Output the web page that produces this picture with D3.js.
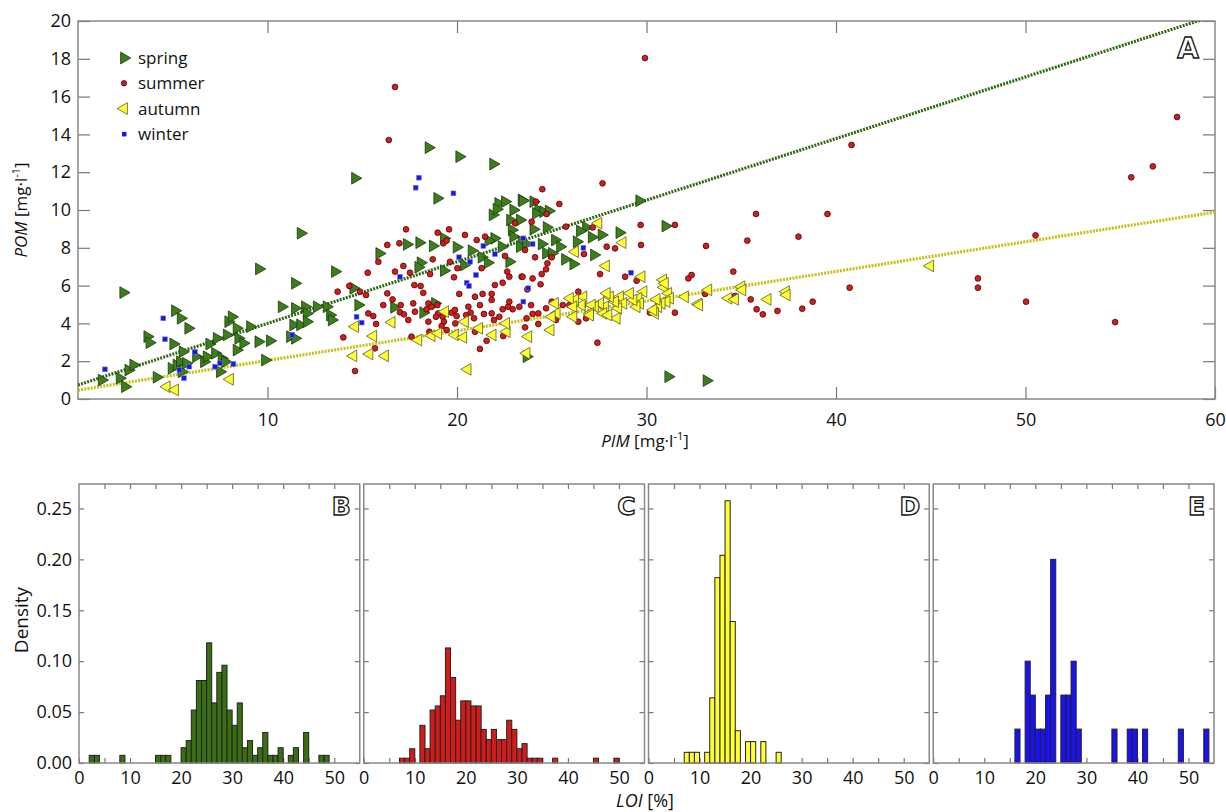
<!DOCTYPE html>
<html>
<head>
<meta charset="utf-8">
<script src="https://cdnjs.cloudflare.com/ajax/libs/d3/7.8.5/d3.min.js"></script>
<style>
  body { margin: 0; background: #fff; }
  svg { font-family: "Open Sans", sans-serif; }
  .tick line { stroke: #777; stroke-width: 1.2; }
  .tick text { fill: #111; }
</style>
</head>
<body>
<svg></svg>
<script>
var width = 1226;
var height = 812;

// scatter data, [PIM, POM] in mg/l
var spring = [[2.39,5.63],[1.25,1.0],[2.2,1.1],[2.48,0.65],[2.66,1.53],[2.92,1.8],[3.66,3.3],[3.77,2.98],[4.15,1.15],[5.12,4.67],[5.42,4.27],[5.82,3.74],[5.03,2.91],[5.52,2.5],[4.94,1.62],[5.2,1.8],[5.38,1.97],[5.7,1.89],[5.47,1.44],[6.23,2.24],[6.65,1.97],[6.79,2.24],[6.93,2.91],[7.23,2.42],[7.32,3.21],[7.58,2.15],[7.49,1.44],[7.76,1.97],[7.93,4.09],[8.11,4.35],[7.85,3.39],[8.37,3.74],[8.46,3.21],[8.37,2.59],[8.72,2.95],[9.08,3.83],[9.52,3.03],[10.13,3.08],[9.87,2.06],[9.55,6.88],[10.75,4.88],[11.45,4.8],[11.98,4.88],[12.07,4.53],[12.6,4.88],[13.12,4.88],[13.3,4.44],[13.39,4.18],[11.19,3.3],[11.45,3.21],[11.36,3.92],[11.72,3.92],[12.07,4.09],[11.45,6.12],[11.75,8.77],[14.62,11.68],[13.56,6.74],[14.53,5.86],[14.79,4.97],[15.9,7.7],
  [18.5,13.3],[20.12,12.82],[21.91,12.43],[18.96,10.62],[17.35,8.18],[18.01,8.27],[18.72,8.1],[19.31,8.5],[19.98,8.03],[20.77,7.85],[21.3,7.5],[21.62,7.21],[20.37,7.09],[19.31,6.79],[18.08,7.21],[17.96,6.97],[16.68,4.85],[18.22,4.57],[18.84,5.06],[22.18,10.35],[22.53,10.44],[21.88,9.74],[22.09,10.04],[22.97,10.0],[23.41,10.53],[22.8,9.47],[23.32,9.47],[22.89,8.94],[22.97,8.59],[23.41,8.32],[23.32,8.06],[22.36,8.06],[21.97,8.5],[21.66,8.38],[22.76,7.26],[23.67,2.24],
  [29.62,10.49],[31.0,9.15],[28.57,8.8],[27.63,8.68],[27.11,8.56],[26.81,9.08],[26.49,8.89],[26.32,8.32],[27.23,7.62],[26.14,7.14],[25.7,7.39],[25.17,8.41],[25.44,8.06],[24.73,9.08],[24.03,8.98],[24.47,8.2],[24.7,7.71],[24.29,10.0],[24.55,9.91],[24.17,9.82],[23.46,10.49],[23.64,8.2],[31.15,1.18],[33.17,0.97],[24.03,10.44],[25.0,7.71],[24.84,9.95]];

var summer = [[13.7,5.68],[14.32,5.98],[14.88,5.68],[15.2,5.5],[15.29,6.68],[15.32,4.53],[15.58,4.39],[15.73,3.97],[14.0,3.26],[14.62,1.48],[15.67,2.68],[15.85,7.26],
  [16.73,16.51],[16.4,13.7],[29.92,18.04],[58.0,14.92],[40.82,13.44],
  [17.31,8.98],[16.32,8.15],[16.96,8.24],[18.98,8.8],[19.58,8.98],[19.28,8.24],[19.45,8.38],[18.72,7.39],[17.17,7.04],[16.73,6.74],[17.52,6.68],[18.58,6.61],[19.63,7.26],[19.84,6.44],[20.02,6.92],[21.3,6.92],[20.42,8.68],[21.04,8.41],[21.48,8.59],[22.65,6.74],[22.76,6.47],[22.53,7.57],[23.06,9.3],[23.41,6.47],[17.75,6.03],[18.08,5.98],[18.22,5.62],[16.32,5.59],[16.11,4.97],[16.6,5.27],[17.03,4.97],[16.99,4.59],[17.2,4.48],[17.43,4.18],[17.69,5.06],[17.78,4.62],[18.49,5.06],[18.4,4.75],[18.66,4.88],[18.96,4.97],[19.01,4.53],[18.89,4.35],[19.24,4.35],[19.31,4.09],[19.19,3.86],[19.45,3.65],[19.72,4.57],[19.89,4.71],[19.98,4.39],[19.91,4.0],[20.12,5.56],[20.6,4.88],[20.72,4.57],[20.48,4.44],[20.9,4.27],[20.95,5.41],[21.35,5.56],[21.21,4.97],[21.42,4.5],[21.83,5.56],[21.83,5.24],[22.0,6.03],[22.41,6.15],[21.83,4.53],[21.95,4.18],[22.23,4.35],[22.41,4.75],[22.7,4.88],[22.76,5.15],[22.94,4.75],[23.29,4.88],[22.44,3.33],[21.56,3.08],[21.21,2.65],[18.54,3.56],[17.6,3.3],[18.49,4.09],[20.95,3.56],
  [27.68,11.41],[24.5,11.1],[24.17,10.44],[25.4,10.32],[24.73,9.79],[23.94,9.38],[25.75,9.12],[27.16,9.08],[29.69,9.21],[31.5,9.21],[35.78,9.79],[35.32,8.38],[33.14,8.1],[29.71,8.15],[28.34,7.97],[27.9,8.06],[26.7,7.67],[23.59,7.88],[24.12,7.5],[25.0,7.5],[24.77,7.18],[24.7,6.86],[24.47,6.61],[23.46,6.47],[23.99,6.38],[24.41,6.07],[23.71,5.8],[27.55,6.61],[28.87,6.47],[29.48,6.26],[32.21,6.38],[32.38,6.56],[34.58,6.74],[26.4,5.68],[25.0,5.15],[23.91,4.97],[24.7,4.8],[25.58,4.97],[25.93,4.97],[26.67,4.97],[23.99,4.5],[24.29,4.53],[23.67,4.27],[24.29,3.97],[23.59,3.79],[26.4,4.09],[26.81,4.27],[25.22,4.18],[30.18,4.57],[31.5,4.57],[33.09,5.56],[34.67,5.45],[35.5,5.27],[35.81,4.75],[27.41,2.98],[29.52,5.15],
  [39.55,9.79],[38.02,8.59],[50.53,8.66],[55.58,11.73],[56.72,12.31],[36.14,4.48],[36.91,4.66],[38.22,4.78],[38.77,5.15],[40.72,5.89],[47.49,6.38],[47.49,5.89],[50.03,5.15],[54.73,4.07]];

var autumn = [[4.68,0.65],[5.12,0.48],[8.02,1.04],[14.62,3.83],[14.53,2.28],[15.38,2.38],[15.58,3.33],
  [19.37,4.62],[16.55,4.06],[16.2,2.28],[17.96,3.12],[18.66,3.35],[19.01,3.47],[19.89,3.39],[20.33,3.26],[20.42,4.09],[21.17,3.74],[21.88,3.39],[22.62,3.56],[22.59,4.0],[23.67,2.42],[20.56,1.57],[23.76,3.3],
  [27.46,9.3],[28.74,8.27],[26.23,7.79],[27.86,7.04],[29.74,6.47],[30.88,6.3],[30.92,5.91],[33.26,5.77],[35.01,5.94],[34.32,5.33],[34.67,5.27],[32.73,5.03],[32.03,5.41],[31.15,5.59],[31.24,5.33],[31.06,5.15],[30.8,5.06],[30.62,4.88],[30.45,4.53],[30.36,4.71],[29.84,5.68],[29.57,5.33],[29.66,5.06],[29.48,4.88],[29.31,5.24],[29.13,5.59],[28.6,5.41],[28.78,5.06],[28.51,4.8],[28.34,5.15],[28.07,5.41],[27.9,5.59],[27.81,4.88],[27.55,5.06],[27.28,4.88],[27.11,4.97],[27.02,4.53],[27.72,4.53],[26.67,5.41],[26.58,4.97],[26.23,5.24],[25.96,5.33],[26.14,4.88],[26.14,4.35],[25.17,5.06],[25.26,4.53],[25.0,4.35],[28.43,4.27],[27.02,4.44],[27.99,4.44],[24.94,3.65],[30.53,5.27],[30.97,6.12],
  [44.97,7.04],[35.06,5.77],[36.39,5.27],[37.36,5.68],[37.4,5.5],[32.78,4.97]];

var winter = [[1.42,1.57],[4.5,4.27],[4.59,3.16],[6.17,2.49],[5.35,1.53],[5.59,1.1],[5.87,1.71],[7.23,1.71],[7.49,1.89],[8.2,1.85],[11.31,3.39],[14.7,4.35],[14.97,4.04],[17.99,11.71],[17.82,11.18],[19.81,10.88],[16.99,6.47],[20.11,7.5],[20.69,7.26],[21.0,6.56],[20.51,6.15],[20.63,5.98],[21.39,8.1],[22.0,7.67],[23.5,8.5],[23.5,5.15],[23.76,5.86],[26.67,8.0],[29.18,6.68],[23.99,8.2]];

// fitted lines (spring, autumn)
var fitIntercept = [0.74, 0.47];
var fitSlope = [0.326, 0.157];

// histograms of LOI, 1 % bins: left edge and density
var binsB = [2,3,8,15,16,17,20,21,22,23,24,25,26,27,28,29,30,31,32,33,34,35,36,37,38,39,41,42,44,47,48];
var densB = [0.0075,0.0075,0.0075,0.0075,0.0075,0.0075,0.015,0.022,0.052,0.081,0.081,0.118,0.059,0.089,0.096,0.052,0.037,0.059,0.015,0.022,0.0075,0.015,0.030,0.0075,0.0075,0.015,0.0075,0.015,0.030,0.0075,0.0075];
var binsC = [7,8,9,11,12,13,14,15,16,17,18,19,20,21,22,23,24,25,26,27,28,29,30,31,32,33,34,37,45,49];
var densC = [0.0047,0.0047,0.014,0.037,0.014,0.052,0.056,0.066,0.113,0.084,0.042,0.061,0.061,0.056,0.056,0.033,0.023,0.033,0.023,0.023,0.042,0.033,0.014,0.019,0.0047,0.0047,0.0047,0.0047,0.0047,0.0047];
var binsD = [7,8,9,11,12,13,14,15,16,17,19,20,22,25];
var densD = [0.0105,0.0105,0.0105,0.0105,0.064,0.182,0.204,0.2575,0.139,0.0317,0.021,0.021,0.021,0.0105];
var binsE = [16,18,19,20,21,22,23,25,26,27,28,35,38,39,41,48,53];
var densE = [0.0333,0.1,0.0667,0.0333,0.0333,0.0667,0.2,0.0667,0.0667,0.1,0.0333,0.0333,0.0333,0.0333,0.0333,0.0333,0.0333];

var seasons = ["spring", "summer", "autumn", "winter"];
var xTicksA = [10, 20, 30, 40, 50, 60];
var yTicksA = d3.range(0, 21, 2);
var xTicksH = [0, 10, 20, 30, 40, 50];
var yTicksH = [0, 0.05, 0.10, 0.15, 0.20, 0.25];

var svg = d3.select("svg")
    .attr("width", width)
    .attr("height", height);

// ---------- panel A ----------
var aLeft = 78, aRight = 1215, aTop = 21, aBottom = 399;

var xScale = d3.scaleLinear().domain([0, 60]).range([aLeft, aRight]);
var yScale = d3.scaleLinear().domain([0, 20]).range([aBottom, aTop]);

svg.append("clipPath").attr("id", "clipA")
  .append("rect")
    .attr("x", aLeft).attr("y", aTop)
    .attr("width", aRight - aLeft).attr("height", aBottom - aTop);

svg.append("g")
    .attr("transform", `translate(0, ${aBottom})`)
    .call(d3.axisBottom(xScale).tickValues(xTicksA).tickSize(-12).tickSizeOuter(0).tickPadding(14))
    .attr("font-size", 18).attr("font-family", null)
    .call(g => g.select(".domain").remove());
svg.append("g")
    .attr("transform", `translate(0, ${aTop})`)
    .call(d3.axisTop(xScale).tickValues([10, 20, 30, 40, 50]).tickSize(-12).tickSizeOuter(0).tickFormat(""))
    .call(g => g.select(".domain").remove());
svg.append("g")
    .attr("transform", `translate(${aLeft}, 0)`)
    .call(d3.axisLeft(yScale).tickValues(yTicksA).tickSize(-12).tickSizeOuter(0).tickPadding(7))
    .attr("font-size", 18).attr("font-family", null)
    .call(g => g.select(".domain").remove());
svg.append("g")
    .attr("transform", `translate(${aRight}, 0)`)
    .call(d3.axisRight(yScale).tickValues(yTicksA).tickSize(-12).tickSizeOuter(0).tickFormat(""))
    .call(g => g.select(".domain").remove());

svg.append("rect")
    .attr("x", aLeft).attr("y", aTop)
    .attr("width", aRight - aLeft).attr("height", aBottom - aTop)
    .attr("fill", "none").attr("stroke", "#888").attr("stroke-width", 1.5);

// regression lines
var lineColors = ["#2f6b12", "#c4c216"];
var plotA = svg.append("g").attr("clip-path", "url(#clipA)");
plotA.selectAll(".fit")
  .data(fitIntercept)
  .enter()
  .append("path")
    .attr("class", "fit")
    .attr("d", (b, i) => d3.line()(xScale.domain().map(x => [xScale(x), yScale(b + fitSlope[i] * x)])))
    .attr("stroke", (d, i) => lineColors[i])
    .attr("stroke-width", 3.2)
    .attr("stroke-dasharray", "2,1.2")
    .attr("fill", "none");

var tri = d3.symbol(d3.symbolTriangle, 60);

function drawSeason(g, name, data) {
    if (name == "spring" || name == "autumn") {
        g.selectAll("." + name).data(data).enter()
          .append("path")
            .attr("class", name)
            .attr("d", tri())
            .attr("transform", d => `translate(${xScale(d[0])},${yScale(d[1])}) rotate(${name == "spring" ? 90 : -90})`)
            .attr("fill", name == "spring" ? "#3c7d1c" : "#ffff2e")
            .attr("stroke", name == "spring" ? "#1d3b0d" : "#5a5a30")
            .attr("stroke-width", 0.8);
    } else if (name == "summer") {
        g.selectAll(".summer").data(data).enter()
          .append("circle")
            .attr("cx", d => xScale(d[0]))
            .attr("cy", d => yScale(d[1]))
            .attr("r", 2.9)
            .attr("fill", "#d41c1c")
            .attr("stroke", "#4a0808")
            .attr("stroke-width", 0.8);
    } else {
        g.selectAll(".winter").data(data).enter()
          .append("rect")
            .attr("x", d => xScale(d[0]) - 2.4)
            .attr("y", d => yScale(d[1]) - 2.4)
            .attr("width", 4.8).attr("height", 4.8)
            .attr("fill", "#1818e8")
            .attr("stroke", "#7a7ad0")
            .attr("stroke-width", 0.6);
    }
}

var seasonData = [spring, summer, autumn, winter];
seasons.forEach((s, i) => drawSeason(plotA, s, seasonData[i]));

// legend
var legend = svg.append("g");
seasons.forEach((s, i) => {
    var row = legend.append("g").attr("transform", `translate(0, ${58 + i * 25.3})`);
    if (s == "spring" || s == "autumn") {
        row.append("path")
            .attr("d", tri())
            .attr("transform", `translate(124,0) rotate(${s == "spring" ? 90 : -90})`)
            .attr("fill", s == "spring" ? "#3c7d1c" : "#ffff2e")
            .attr("stroke", s == "spring" ? "#1d3b0d" : "#5a5a30")
            .attr("stroke-width", 0.8);
    } else if (s == "summer") {
        row.append("circle").attr("cx", 124).attr("cy", 0).attr("r", 2.7)
            .attr("fill", "#d41c1c").attr("stroke", "#4a0808").attr("stroke-width", 0.8);
    } else {
        row.append("rect").attr("x", 122).attr("y", -2).attr("width", 4.5).attr("height", 4.5)
            .attr("fill", "#1818e8");
    }
    row.append("text")
        .attr("x", 138).attr("y", 0).attr("dy", "0.35em")
        .attr("font-size", 17)
        .attr("fill", "#111")
        .text(s);
});

// axis titles A
var xt = svg.append("text")
    .attr("x", 645).attr("y", 447)
    .attr("text-anchor", "middle").attr("font-size", 17).attr("fill", "#111");
xt.append("tspan").attr("font-style", "italic").text("PIM");
xt.append("tspan").text(" [mg·l");
xt.append("tspan").attr("font-size", 11).attr("dy", -7).text("-1");
xt.append("tspan").attr("dy", 7).text("]");

var yt = svg.append("text")
    .attr("transform", "translate(27, 210) rotate(-90)")
    .attr("text-anchor", "middle").attr("font-size", 17).attr("fill", "#111");
yt.append("tspan").attr("font-style", "italic").text("POM");
yt.append("tspan").text(" [mg·l");
yt.append("tspan").attr("font-size", 11).attr("dy", -7).text("-1");
yt.append("tspan").attr("dy", 7).text("]");

function panelLetter(x, y, size, letter) {
    svg.append("text")
        .attr("x", x).attr("y", y)
        .attr("text-anchor", "end")
        .attr("font-size", size)
        .attr("font-weight", "bold")
        .attr("font-family", "DejaVu Sans")
        .attr("fill", "#fff")
        .attr("stroke", "#111")
        .attr("stroke-width", 1.3)
        .text(letter);
}
panelLetter(1199, 58, 28, "A");

// ---------- histograms B-E ----------
var hTop = 484, hBottom = 763;
var hLeft = 79, hRight = 1214, gap = 4;
var pw = (hRight - hLeft - 3 * gap) / 4;

var hists = [
    {letter: "B", bins: binsB, dens: densB, fill: "#3a6e12"},
    {letter: "C", bins: binsC, dens: densC, fill: "#d21c1c"},
    {letter: "D", bins: binsD, dens: densD, fill: "#ffff33"},
    {letter: "E", bins: binsE, dens: densE, fill: "#1a12f0"}
];

var yH = d3.scaleLinear().domain([0, 0.274]).range([hBottom, hTop]);

hists.forEach((h, i) => {
    var x0 = hLeft + i * (pw + gap);
    var xH = d3.scaleLinear().domain([0, 55]).range([x0, x0 + pw]);

    svg.append("g")
        .attr("transform", `translate(0, ${hBottom})`)
        .call(d3.axisBottom(xH).tickValues(d3.range(0, 55, 5)).tickSize(-5).tickSizeOuter(0).tickPadding(8)
            .tickFormat(d => d % 10 == 0 ? d : ""))
        .attr("font-size", 18).attr("font-family", null)
        .call(g => g.select(".domain").remove());
    svg.append("g")
        .attr("transform", `translate(0, ${hTop})`)
        .call(d3.axisTop(xH).tickValues(d3.range(5, 55, 5)).tickSize(-5).tickSizeOuter(0).tickFormat(""))
        .call(g => g.select(".domain").remove());
    svg.append("g")
        .attr("transform", `translate(${x0}, 0)`)
        .call(d3.axisLeft(yH).tickValues(yTicksH).tickSize(-5).tickSizeOuter(0).tickPadding(7)
            .tickFormat(i == 0 ? d3.format(".2f") : ""))
        .attr("font-size", 18).attr("font-family", null)
        .call(g => g.select(".domain").remove());
    svg.append("g")
        .attr("transform", `translate(${x0 + pw}, 0)`)
        .call(d3.axisRight(yH).tickValues(yTicksH).tickSize(-5).tickSizeOuter(0).tickFormat(""))
        .call(g => g.select(".domain").remove());

    svg.append("g").selectAll("rect")
      .data(h.bins)
      .enter()
      .append("rect")
        .attr("x", d => xH(d))
        .attr("width", d => xH(d + 1) - xH(d))
        .attr("y", (d, j) => yH(h.dens[j]))
        .attr("height", (d, j) => yH(0) - yH(h.dens[j]))
        .attr("fill", h.fill)
        .attr("stroke", "#222")
        .attr("stroke-width", 1);

    svg.append("rect")
        .attr("x", x0).attr("y", hTop)
        .attr("width", pw).attr("height", hBottom - hTop)
        .attr("fill", "none").attr("stroke", "#888").attr("stroke-width", 1.5);

    panelLetter(x0 + pw - 9, hTop + 31, 25, h.letter);
});

svg.append("text")
    .attr("transform", "translate(28, 620) rotate(-90)")
    .attr("text-anchor", "middle").attr("font-size", 19).attr("fill", "#111")
    .text("Density");

var lt = svg.append("text")
    .attr("x", 645).attr("y", 807)
    .attr("text-anchor", "middle").attr("font-size", 18).attr("fill", "#111");
lt.append("tspan").attr("font-style", "italic").text("LOI");
lt.append("tspan").text(" [%]");
</script>
</body>
</html>
